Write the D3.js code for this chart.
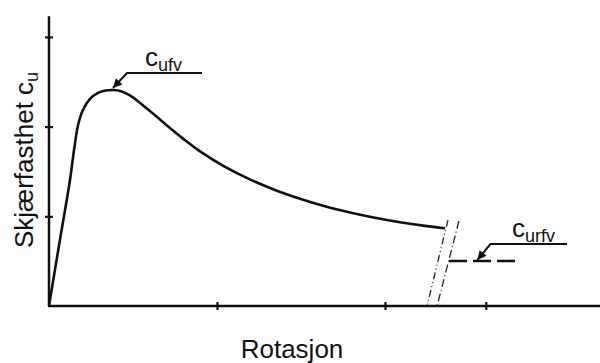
<!DOCTYPE html>
<html>
<head>
<meta charset="utf-8">
<script src="https://cdn.jsdelivr.net/npm/d3@7"></script>
<style>
    body { margin: 0; background: #fff; }
    svg { display: block; font-family: "Liberation Sans", Arial, sans-serif; }
</style>
</head>
<body>
<div class="chart"></div>
<script>
// Rotation (x) and undrained shear strength (y)
const rotation = [0, 0.065, 0.125, 0.149, 0.173, 0.202, 0.244, 0.292, 0.339, 0.381, 0.429, 0.482,
    0.560, 0.631, 0.702, 0.798, 0.899, 1.048, 1.196, 1.345, 1.494, 1.643, 1.792, 1.940,
    2.089, 2.238, 2.357];
const strength = [0, 0.736, 1.405, 1.739, 2.018, 2.185, 2.308, 2.375, 2.402, 2.408, 2.395, 2.347,
    2.235, 2.126, 2.012, 1.866, 1.724, 1.551, 1.411, 1.294, 1.196, 1.112, 1.043, 0.984,
    0.934, 0.893, 0.866];

// remoulded strength (dashed level after the break)
const remouldedX = [2.381, 2.786];
const remouldedY = [0.502, 0.502];

// axis break marks: [x top, y top, x bottom, y bottom]
const breakMarks = [[2.375, 0.936, 2.250, 0], [2.440, 0.925, 2.310, 0]];

const xTicks = [1, 2, 2.6];
const yTicks = [1, 2, 3];

const xLabel = "Rotasjon";
const yLabel = "Skjærfasthet c";
const yLabelSub = "u";
const peakLabel = ["c", "ufv"];
const remouldedLabel = ["c", "urfv"];

const width = 600,
    height = 363,
    x0 = 49,
    y0 = 306;

let x = d3.scaleLinear().domain([0, 3.28]).range([x0, x0 + 168 * 3.28]),
    y = d3.scaleLinear().domain([0, 3.22]).range([y0, y0 - 89.7 * 3.22]);

let svg = d3.select("div.chart")
    .append("svg")
    .attr("width", width)
    .attr("height", height);

svg.append("defs")
    .append("marker")
    .attr("id", "head")
    .attr("viewBox", "0 0 10 10")
    .attr("refX", 10)
    .attr("refY", 5)
    .attr("markerUnits", "userSpaceOnUse")
    .attr("markerWidth", 11)
    .attr("markerHeight", 9)
    .attr("orient", "auto")
    .append("path")
    .attr("d", "M0,0 L10,5 L0,10 Z")
    .attr("fill", "#111");

// Axes
let xAxis = d3.axisBottom(x).tickValues(xTicks).tickSize(8).tickFormat("");
let yAxis = d3.axisLeft(y).tickValues(yTicks).tickSize(8).tickFormat("");

let gx = svg.append("g")
    .attr("transform", `translate(0,${y0})`)
    .call(xAxis);
gx.selectAll(".tick line").attr("transform", "translate(0,-4)");

let gy = svg.append("g")
    .attr("transform", `translate(${x0},0)`)
    .call(yAxis);
gy.selectAll(".tick line").attr("transform", "translate(4,0)");

svg.selectAll(".domain")
    .attr("stroke", "#111")
    .attr("stroke-width", 2.5)
    .attr("d", function () {
        return this.parentNode === gx.node()
            ? `M${x0 - 1},0H${width}`
            : `M0,${y0}V${y.range()[1] - 1}`;
    });
svg.selectAll(".tick line")
    .attr("stroke", "#111")
    .attr("stroke-width", 2.2);

// Main curve
let points = rotation.map((r, i) => [r, strength[i]]);
let line = d3.line()
    .x(d => x(d[0]))
    .y(d => y(d[1]))
    .curve(d3.curveCatmullRom.alpha(0.5));

svg.append("path")
    .datum(points)
    .attr("d", line)
    .attr("fill", "none")
    .attr("stroke", "#111")
    .attr("stroke-width", 2.6)
    .attr("stroke-linejoin", "round");

// Break marks
svg.selectAll("line.break")
    .data(breakMarks)
    .enter()
    .append("line")
    .attr("class", "break")
    .attr("x1", d => x(d[0]))
    .attr("y1", d => y(d[1]) - 2)
    .attr("x2", d => x(d[2]))
    .attr("y2", d => y(d[3]))
    .attr("stroke", "#222")
    .attr("stroke-width", 1.3)
    .attr("stroke-dasharray", (d, i) => i === 0 ? "7,3,1,3,1,3" : "8,3,1,3");

// Remoulded level
svg.append("path")
    .datum(remouldedX.map((r, i) => [r, remouldedY[i]]))
    .attr("d", d3.line().x(d => x(d[0])).y(d => y(d[1])))
    .attr("stroke", "#111")
    .attr("stroke-width", 2.6)
    .attr("stroke-dasharray", "18,6");

// Annotations
function annotate(tip, elbow, end, label, labelPos) {
    svg.append("path")
        .attr("d", `M${end[0]},${end[1]}H${elbow[0]}L${tip[0]},${tip[1]}`)
        .attr("fill", "none")
        .attr("stroke", "#111")
        .attr("stroke-width", 2)
        .attr("marker-end", "url(#head)");
    let t = svg.append("text")
        .attr("x", labelPos[0])
        .attr("y", labelPos[1])
        .attr("font-size", 26)
        .attr("fill", "#111");
    t.append("tspan").text(label[0]);
    t.append("tspan").attr("font-size", 18).attr("dy", 5).text(label[1]);
}

let peakI = d3.maxIndex(strength);
let peak = [x(rotation[peakI]), y(strength[peakI]) - 2];
annotate(peak, [peak[0] + 14, 73], [202, 73], peakLabel, [145, 66]);

let rem = [x(2.55), y(remouldedY[0]) - 1];
annotate(rem, [rem[0] + 13, 244], [567, 244], remouldedLabel, [512, 237]);

// Axis titles
svg.append("text")
    .attr("x", 292)
    .attr("y", 358)
    .attr("text-anchor", "middle")
    .attr("font-size", 26)
    .attr("fill", "#111")
    .text(xLabel);

let yt = svg.append("text")
    .attr("transform", "translate(33,160) rotate(-90)")
    .attr("text-anchor", "middle")
    .attr("font-size", 26)
    .attr("fill", "#111");
yt.append("tspan").text(yLabel);
yt.append("tspan").attr("font-size", 18).attr("dy", 5).text(yLabelSub);
</script>
</body>
</html>
